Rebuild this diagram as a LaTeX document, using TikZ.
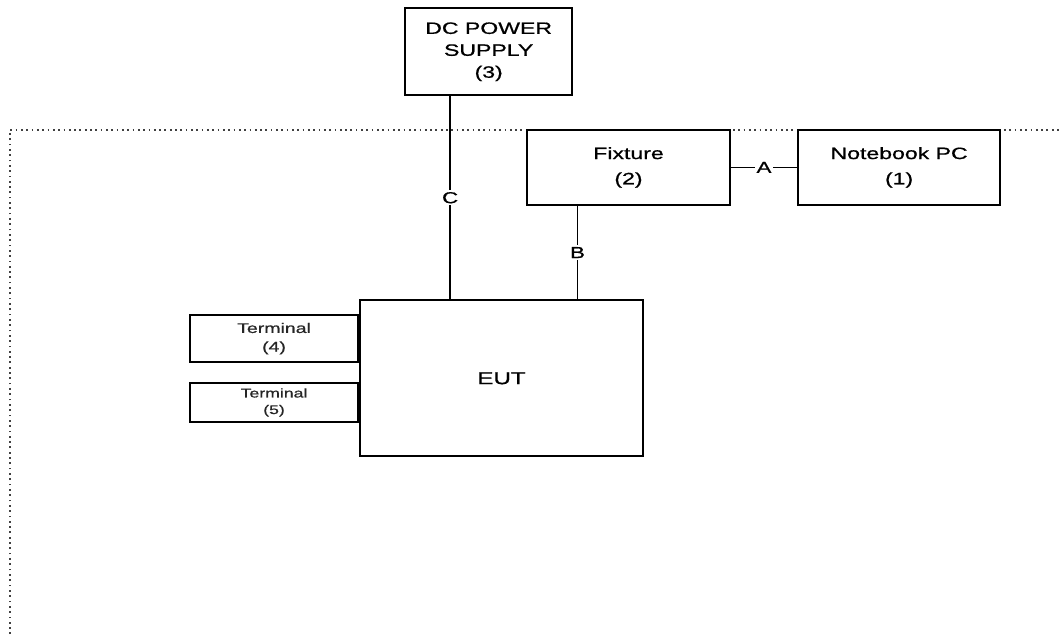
\documentclass[tikz,border=0pt]{standalone}
\usepackage{fontspec}
\setmainfont[FakeStretch=1.4,FakeBold=0.8]{Liberation Sans}
\usetikzlibrary{calc}

\begin{document}
\begin{tikzpicture}[
  x=1cm,
  y=1cm,
  font=\fontsize{12.4}{19}\selectfont,
  line/.style={draw=black,line width=1.1pt},
  box/.style={line,line width=1.4pt,align=center,inner sep=0pt},
  unitbox/.style={box,minimum width=5.36cm,minimum height=1.98cm},
  termbox/.style={box,minimum width=4.45cm,text=black!85},
  cablelabel/.style={fill=white,inner sep=1.5pt,font=\fontsize{12}{14}\selectfont},
  border/.style={draw=black!75,line width=1.3pt,dash pattern=on 1.3pt off 2.7pt}
]
\useasboundingbox (0,0) rectangle (28.10,16.78);

% Test area boundary
\draw[border] (0.26,0) -- (0.26,13.34) -- (28.10,13.34);

% Units
\node[box,minimum width=4.42cm,minimum height=2.30cm,font=\fontsize{12.4}{16.5}\selectfont]
  (power) at (12.93,15.41) {DC POWER\\SUPPLY\\(3)};
\node[unitbox] (fixture) at (16.63,12.35) {Fixture\\(2)};
\node[unitbox,minimum width=5.34cm] (notebook) at (23.79,12.35) {Notebook PC\\(1)};
\node[box,minimum width=7.49cm,minimum height=4.13cm,font=\fontsize{13}{15}\selectfont]
  (eut) at (13.27,6.77) {EUT};

% Terminals attached to the EUT
\node[termbox,minimum height=1.24cm,anchor=east,font=\fontsize{10.5}{14}\selectfont]
  (term4) at (eut.west |- 0,7.82) {Terminal\\(4)};
\node[termbox,minimum height=1.03cm,anchor=east,font=\fontsize{9.5}{12.5}\selectfont]
  (term5) at (eut.west |- 0,6.13) {Terminal\\(5)};

% Cables
\coordinate (cC) at (11.91,0);
\coordinate (cB) at (15.28,0);
\draw[line] (fixture.east) -- node[cablelabel] {A} (notebook.west);
\draw[line] (fixture.south -| cB) -- node[cablelabel] {B} (eut.north -| cB);
\draw[line] (power.south -| cC) -- node[cablelabel] {C} (eut.north -| cC);

\end{tikzpicture}
\end{document}
